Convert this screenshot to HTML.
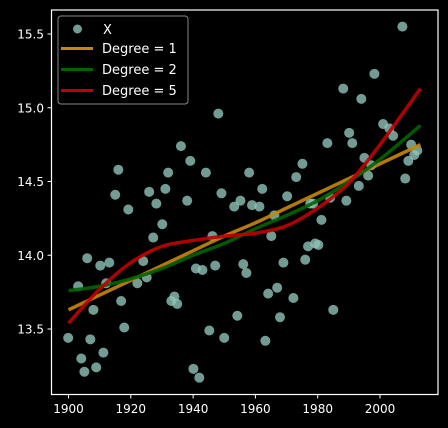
<!DOCTYPE html>
<html><head><meta charset="utf-8"><style>
html,body{margin:0;padding:0;background:#000;width:448px;height:428px;overflow:hidden}
svg{display:block;font-family:"DejaVu Sans","Liberation Sans",sans-serif}
</style></head><body>
<svg id="chart" width="448" height="428">
<rect width="448" height="428" fill="#000"/>
<g id="pts"></g>
<g id="lines"></g>
<rect x="51.5" y="10" width="386.5" height="384.5" fill="none" stroke="#fff" stroke-width="1.2"/>
<g id="xticks"></g>
<g id="yticks"></g>
<g>
<rect x="58" y="16" width="130" height="88" rx="3" fill="#000" fill-opacity="0.8" stroke="#888" stroke-width="1"/>
<circle cx="77.5" cy="29" r="4.5" fill="#8ec3b8" fill-opacity="0.8"/>
<text x="103" y="34" fill="#fff" font-size="13">X</text>
<line x1="61" y1="48.5" x2="93" y2="48.5" stroke="#c8860a" stroke-width="3"/>
<text x="102" y="53" fill="#fff" font-size="13">Degree = 1</text>
<line x1="61" y1="69.5" x2="93" y2="69.5" stroke="#006400" stroke-width="3"/>
<text x="102" y="74" fill="#fff" font-size="13">Degree = 2</text>
<line x1="61" y1="90.5" x2="93" y2="90.5" stroke="#c00000" stroke-width="3"/>
<text x="102" y="95" fill="#fff" font-size="13">Degree = 5</text>
</g>
</svg>
<script>
const years=[1899.9,1903.1,1904.1,1905.1,1906.0,1907.0,1908.0,1908.9,1910.2,1911.2,1912.1,1913.1,1916.0,1915.0,1916.9,1917.9,1919.2,1922.1,1924.0,1925.1,1925.9,1928.2,1927.2,1930.1,1931.1,1932.0,1933.0,1934.0,1934.9,1936.1,1948.1,1939.1,1944.1,1938.1,1949.1,1958.0,1962.2,1955.2,1953.2,1958.9,1961.3,1975.1,1973.1,1970.2,1977.6,1966.1,1946.2,1965.1,1976.9,1976.0,1947.1,1940.9,1943.0,1956.1,1957.1,1969.0,1967.0,1964.1,1972.2,1954.2,1967.9,1945.2,1950.0,1963.2,1940.1,1942.0,2007.2,1998.2,1988.2,1994.0,2001.0,2003.0,2004.2,1990.1,1991.1,1983.1,2010.0,2012.0,2011.0,2009.1,1995.0,1997.2,1996.2,2008.1,1993.2,1984.0,1989.2,1978.5,1981.2,1979.2,1980.2,1985.0];
const temps=[13.44,13.79,13.30,13.21,13.98,13.43,13.63,13.24,13.93,13.34,13.81,13.95,14.58,14.41,13.69,13.51,14.31,13.81,13.96,13.85,14.43,14.35,14.12,14.21,14.45,14.56,13.69,13.72,13.67,14.74,14.96,14.64,14.56,14.37,14.42,14.56,14.45,14.37,14.33,14.34,14.33,14.62,14.53,14.40,14.35,14.27,14.13,14.13,14.06,13.97,13.93,13.91,13.90,13.94,13.88,13.95,13.78,13.74,13.71,13.59,13.58,13.49,13.44,13.42,13.23,13.17,15.55,15.23,15.13,15.06,14.89,14.86,14.81,14.83,14.76,14.76,14.75,14.71,14.68,14.64,14.66,14.61,14.54,14.52,14.47,14.39,14.37,14.35,14.24,14.08,14.07,13.63];
const fitYears=[1900,1910,1920,1930,1940,1950,1960,1970,1980,1990,2000,2013];
const deg1=[13.63,13.73,13.83,13.93,14.03,14.13,14.22,14.32,14.42,14.52,14.62,14.75];
const deg2=[13.76,13.79,13.84,13.91,14.00,14.08,14.18,14.27,14.37,14.50,14.65,14.88];
const deg5=[13.54,13.77,13.95,14.06,14.10,14.13,14.15,14.20,14.32,14.49,14.75,15.13];
const xTicks=[1900,1920,1940,1960,1980,2000];
const yTicks=[13.5,14.0,14.5,15.0,15.5];
const NS='http://www.w3.org/2000/svg';
const xs=y=>68.5+(y-1900)*3.115;
const ys=v=>34-(v-15.5)*147.5;
function mk(t,a,p){const e=document.createElementNS(NS,t);for(const k in a)e.setAttribute(k,a[k]);p.appendChild(e);return e;}
const pg=document.getElementById('pts');
years.forEach((y,i)=>{const c=mk('circle',{cx:xs(y),cy:ys(temps[i]),r:5,fill:'#8ec3b8','fill-opacity':0.8},pg);

});
const lg=document.getElementById('lines');
function path(vals){const P=fitYears.map((y,i)=>[xs(y),ys(vals[i])]);let d='M'+P[0][0]+','+P[0][1];
for(let i=0;i<P.length-1;i++){const p0=P[i-1]||P[i],p1=P[i],p2=P[i+1],p3=P[i+2]||P[i+1];
d+=' C'+(p1[0]+(p2[0]-p0[0])/6)+','+(p1[1]+(p2[1]-p0[1])/6)+' '+(p2[0]-(p3[0]-p1[0])/6)+','+(p2[1]-(p3[1]-p1[1])/6)+' '+p2[0]+','+p2[1];}return d;}
[[deg1,'#c8860a','fit-line-degree-1'],[deg2,'#006400','fit-line-degree-2'],[deg5,'#c00000','fit-line-degree-5']].forEach(([v,c,n])=>{
const e=mk('path',{d:path(v),fill:'none',stroke:c,'stroke-width':3.5,'stroke-opacity':0.9},lg);

});
const xg=document.getElementById('xticks');
xTicks.forEach(t=>{const x=xs(t);mk('line',{x1:x,x2:x,y1:394.5,y2:398.5,stroke:'#fff'},xg);
const tx=mk('text',{x:x,y:413,fill:'#fff','font-size':12,'text-anchor':'middle'},xg);tx.textContent=t;

});
const yg=document.getElementById('yticks');
yTicks.forEach(t=>{const y=ys(t);mk('line',{x1:47.5,x2:51.5,y1:y,y2:y,stroke:'#fff'},yg);
const tx=mk('text',{x:44,y:y+4.5,fill:'#fff','font-size':12,'text-anchor':'end'},yg);tx.textContent=t.toFixed(1);

});
</script>
</body></html>
